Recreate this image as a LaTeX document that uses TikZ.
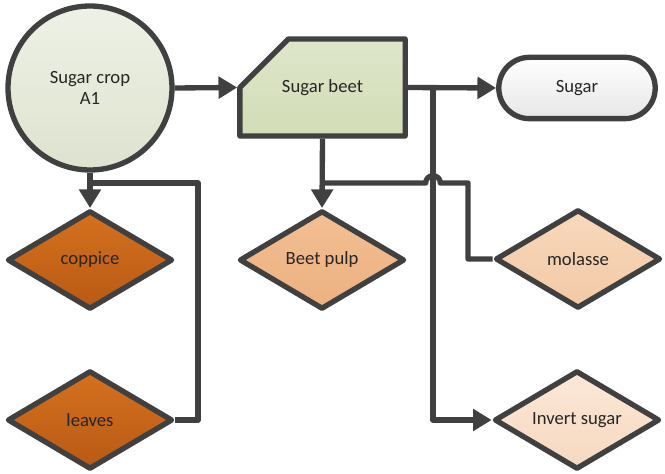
\documentclass[tikz,border=0pt]{standalone}
\usepackage{fontspec}
\setmainfont{Carlito}
\usetikzlibrary{shapes.geometric,shapes.misc,arrows.meta,shadows}

\definecolor{edge}{HTML}{404040}
\definecolor{cropA}{HTML}{EEF1E6}
\definecolor{cropB}{HTML}{DDE3CF}
\definecolor{beetA}{HTML}{DFE6CB}
\definecolor{beetB}{HTML}{D2DCB6}
\definecolor{sugarB}{HTML}{E6E6E6}
\definecolor{darkA}{HTML}{D4711E}
\definecolor{darkB}{HTML}{B95A14}
\definecolor{pulpA}{HTML}{F3BF92}
\definecolor{pulpB}{HTML}{ECB080}
\definecolor{molA}{HTML}{F8D8BC}
\definecolor{molB}{HTML}{F2C9A6}
\definecolor{invA}{HTML}{FCE8D8}
\definecolor{invB}{HTML}{F6D8C0}

\tikzset{
  box/.style={draw=edge, line width=4pt, line join=round, align=center,
    font=\fontsize{14}{16}\selectfont, text=black!85,
    drop shadow={shadow xshift=1.5pt, shadow yshift=-1.5pt, opacity=0.18}},
  product/.style={box, diamond, aspect=1.7, inner sep=0pt,
    minimum width=124pt, minimum height=74pt},
  line/.style={draw=edge, line width=4pt, line join=round},
  arr/.style={line, -{Triangle[length=14pt,width=16pt]}},
}

\begin{document}
\begin{tikzpicture}[x=0.75pt,y=-0.75pt]
  \useasboundingbox (0,0) rectangle (665,474);

  % sources
  \node[box, circle, minimum size=123pt, top color=cropA, bottom color=cropB]
    (crop) at (90,88) {Sugar crop\\A1};
  \node[box, chamfered rectangle, chamfered rectangle corners=north west,
    chamfered rectangle xsep=27pt, chamfered rectangle ysep=27pt,
    minimum width=124pt, minimum height=71pt, top color=beetA, bottom color=beetB]
    (beet) at (322.5,87.5) {Sugar beet};
  \node[box, rounded rectangle, minimum width=124pt, minimum height=46pt,
    top color=white, bottom color=sugarB] (sugar) at (577,88) {Sugar};

  % by-products
  \node[product, top color=darkA, bottom color=darkB] (coppice) at (90,260) {coppice};
  \node[product, top color=darkA, bottom color=darkB] (leaves) at (90,420) {leaves};
  \node[product, top color=pulpA, bottom color=pulpB] (pulp) at (322,260) {Beet pulp};
  \node[product, top color=molA, bottom color=molB] (molasse) at (578,259) {molasse};
  \node[product, top color=invA, bottom color=invB] (invert) at (577,420) {Invert sugar};

  \coordinate (leavesup) at (198,183);
  \coordinate (pulpsplit) at (322,183);
  \coordinate (hop) at (433,183);
  \coordinate (molbend) at (468,183);
  \coordinate (sugarsplit) at (433,88);

  \draw[arr] (crop.east) -- (beet.west);
  \draw[arr] (beet.east) -- (sugar.west);
  \draw[arr] (crop.south) -- (coppice.north);
  \draw[line] (leaves.east) -| (leavesup) -- (leavesup -| coppice.north);
  \draw[arr] (beet.south) -- (pulp.north);
  \draw[arr] (sugarsplit) |- (invert.west);
  \draw[line] (pulpsplit) -- ([xshift=-5.5pt]hop) arc[start angle=180, end angle=0, radius=5.5pt]
    -- (molbend) |- (molasse.west);
\end{tikzpicture}
\end{document}
